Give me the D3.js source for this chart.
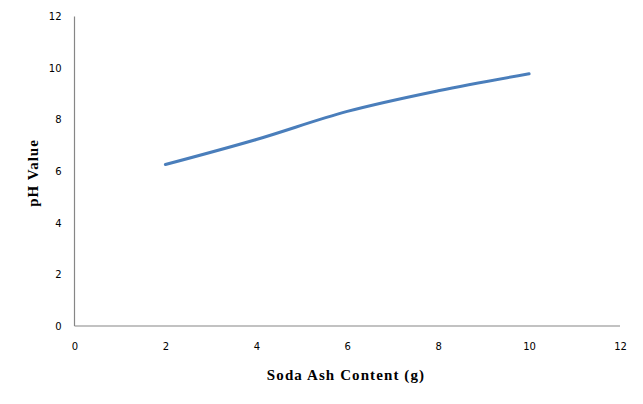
<!DOCTYPE html>
<html><head><meta charset="utf-8">
<script src="https://cdn.jsdelivr.net/npm/d3@7"></script>
<style>body{margin:0;background:#fff}</style>
</head><body>
<svg id="c" width="643" height="404"></svg>
<script>
const sodaAsh = [2, 4, 6, 8, 10];
const phValues = [6.26, 7.23, 8.32, 9.12, 9.78];
const xTicks = [0, 2, 4, 6, 8, 10, 12];
const yTicks = [0, 2, 4, 6, 8, 10, 12];
const xTitle = "Soda Ash Content (g)";
const yTitle = "pH Value";

const svg = d3.select("#c");
const x = d3.scaleLinear().domain([0, 12]).range([74.5, 620]);
const y = d3.scaleLinear().domain([0, 12]).range([326, 16.5]);

const xa = svg.append("g").attr("transform", "translate(0,326)")
  .call(d3.axisBottom(x).tickValues(xTicks).tickSize(0).tickPadding(17));
const ya = svg.append("g").attr("transform", "translate(74.5,0)")
  .call(d3.axisLeft(y).tickValues(yTicks).tickSize(0).tickPadding(13));
[xa, ya].forEach(a => {
  a.select(".domain").attr("stroke", "#868686").attr("stroke-width", 1.2);
  a.selectAll("text").attr("font-family", "DejaVu Sans, Verdana, sans-serif").attr("font-size", 10).attr("fill", "#000");
});
ya.select(".domain").attr("d", "M0," + y(12) + "V" + y(0));
xa.select(".domain").attr("d", "M" + x(0) + ",0H" + x(12));

const line = d3.line().x((d, i) => x(sodaAsh[i])).y(d => y(d)).curve(d3.curveCardinal.tension(0));
svg.append("path").datum(phValues).attr("d", line)
  .attr("fill", "none").attr("stroke", "#4a7ebb").attr("stroke-width", 3).attr("stroke-linecap", "round");

svg.append("text").attr("x", 346).attr("y", 380).attr("text-anchor", "middle")
  .attr("font-family", "Liberation Serif, Times New Roman, serif").attr("font-weight", "bold").attr("font-size", 15)
  .attr("letter-spacing", 1.1)
  .text(xTitle);
svg.append("text").attr("transform", "translate(37.5,173) rotate(-90)").attr("text-anchor", "middle")
  .attr("font-family", "Liberation Serif, Times New Roman, serif").attr("font-weight", "bold").attr("font-size", 15)
  .attr("letter-spacing", 1)
  .text(yTitle);
</script>
</body></html>
